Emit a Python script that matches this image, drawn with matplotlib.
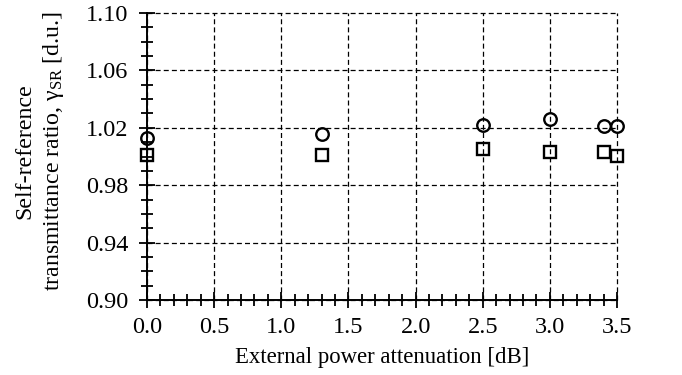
import matplotlib
matplotlib.use("Agg")
import matplotlib.pyplot as plt
from matplotlib.ticker import MultipleLocator, FormatStrFormatter

attenuation_db = [0.0, 1.3, 2.5, 3.0, 3.4, 3.5]
ratio_circles = [1.0126, 1.0158, 1.0218, 1.0262, 1.0216, 1.0216]
ratio_squares = [1.0008, 1.0008, 1.0054, 1.0031, 1.0030, 1.0003]
x_ticks = [0.0, 0.5, 1.0, 1.5, 2.0, 2.5, 3.0, 3.5]
y_ticks = [0.90, 0.94, 0.98, 1.02, 1.06, 1.10]

plt.rcParams['font.family'] = ['Liberation Serif', 'DejaVu Serif']
plt.rcParams['mathtext.fontset'] = 'custom'
plt.rcParams['mathtext.rm'] = 'Liberation Serif'
plt.rcParams['mathtext.it'] = 'Liberation Serif:italic'

fig = plt.figure(figsize=(6.82, 3.75), dpi=100)
ax = fig.add_axes([147/682, 75/375, 470/682, 287/375])

ax.plot(attenuation_db, ratio_circles, linestyle='none', marker='o', markersize=9,
        markerfacecolor='none', markeredgecolor='black', markeredgewidth=1.7,
        clip_on=False, zorder=1)
ax.plot(attenuation_db, ratio_squares, linestyle='none', marker='s', markersize=9,
        markerfacecolor='none', markeredgecolor='black', markeredgewidth=1.7,
        clip_on=False, zorder=1)

ax.set_xlim(0, 3.5)
ax.set_ylim(0.90, 1.10)
ax.set_xticks(x_ticks)
ax.set_yticks(y_ticks)
ax.xaxis.set_major_formatter(FormatStrFormatter('%.1f'))
ax.yaxis.set_major_formatter(FormatStrFormatter('%.2f'))
ax.xaxis.set_minor_locator(MultipleLocator(0.1))
ax.yaxis.set_minor_locator(MultipleLocator(0.01))

ax.grid(True, which='major', color='black', linestyle=(0, (4, 2.5)), linewidth=0.9)
ax.set_axisbelow(False)
for gl in ax.get_xgridlines() + ax.get_ygridlines():
    gl.set_clip_on(False)

for s in ['top', 'right']:
    ax.spines[s].set_visible(False)
for s in ['left', 'bottom']:
    ax.spines[s].set_linewidth(1.4)
    ax.spines[s].set_zorder(3)

ax.tick_params(axis='both', which='major', direction='inout', length=11, width=1.3,
               labelsize=17.5, colors='black')
ax.tick_params(axis='both', which='minor', direction='inout', length=8, width=1.3)
ax.tick_params(axis='x', which='major', pad=7)
ax.tick_params(axis='y', which='major', pad=8)

ax.set_xlabel('External power attenuation [dB]', fontsize=16.4, labelpad=6)
ax.set_ylabel('Self-reference\ntransmittance ratio, γ$_{\\mathrm{SR}}$ [d.u.]',
              fontsize=17.2, linespacing=1.3)
ax.yaxis.set_label_coords(-0.172, 0.52)

fig.savefig('out.png', dpi=100)
